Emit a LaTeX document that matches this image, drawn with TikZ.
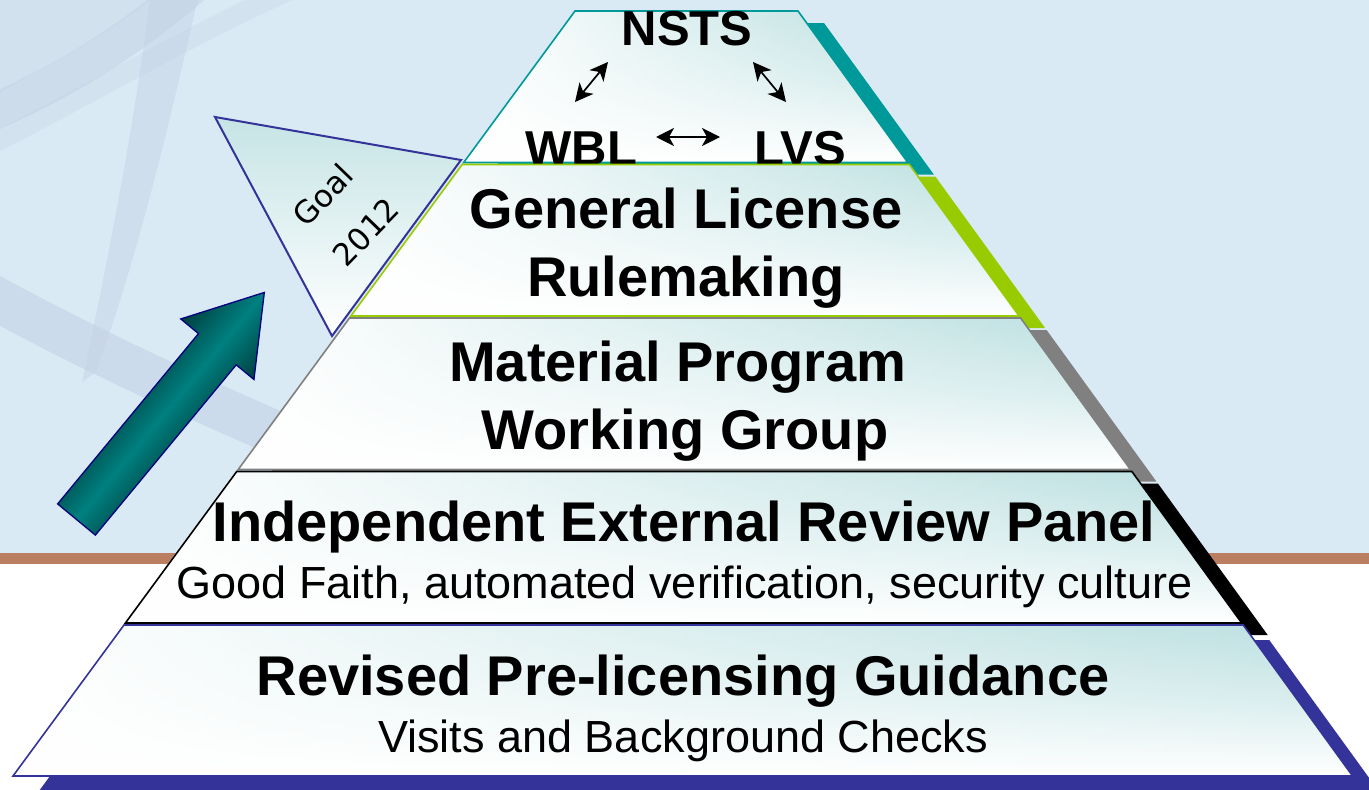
\documentclass[tikz,border=0pt]{standalone}
\usepackage{fontspec}
\setmainfont{Liberation Sans}
\newfontfamily\goalfont{DejaVu Sans}
\usetikzlibrary{arrows.meta,fadings}

\definecolor{skyBg}{HTML}{D9EAF4}
\definecolor{ribbon}{HTML}{C4D1E5}
\definecolor{clay}{HTML}{BA7E60}
\definecolor{tierTeal}{HTML}{009999}
\definecolor{tierGreen}{HTML}{99CC00}
\definecolor{tierGray}{HTML}{808080}
\definecolor{tierBlack}{HTML}{000000}
\definecolor{tierBlue}{HTML}{333399}
\definecolor{tint}{HTML}{BADFE0}
\definecolor{goalTint}{HTML}{C6E4E5}
\definecolor{arrowTeal}{HTML}{008080}
\definecolor{arrowDark}{HTML}{003F3F}
\definecolor{arrowEdge}{HTML}{000080}

% white wash that is strong on the left and vanishes to the right
\tikzfading[name=whiteleft, left color=transparent!0, middle color=transparent!60, right color=transparent!100]

% one tier of the pyramid: offset shadow, tinted body, outline
\newcommand\drawtier[3]{%
  \fill[#1, shift={#3}] #2;
  \shade[top color=tint, bottom color=white, middle color=tint!55!white] #2;
  \fill[white, path fading=whiteleft] #2;
  \draw[#1, line width=1.6pt, line join=miter] #2;
}

\begin{document}
\begin{tikzpicture}[x=1pt, y=-1pt,
  title/.style={font=\fontsize{56}{60}\selectfont\bfseries, inner sep=0pt, anchor=base},
  subtitle/.style={font=\fontsize{45}{50}\selectfont, inner sep=0pt, anchor=base},
  peer/.style={font=\fontsize{49}{52}\selectfont\bfseries, inner sep=0pt, anchor=base},
  goaltext/.style={font=\goalfont\fontsize{31}{33}\selectfont, inner sep=0pt, rotate=46},
  link/.style={{Stealth[length=18pt,width=18pt,inset=5pt]}-{Stealth[length=18pt,width=18pt,inset=5pt]}, line width=1.7pt}
]
\useasboundingbox (0,0) rectangle (1369,790);
\clip (0,0) rectangle (1369,790);

% backdrop: sky, clay stripe, white floor
\fill[skyBg] (0,0) rectangle (1369,553);
\fill[clay] (0,553) rectangle (1369,564);
\fill[white] (0,564) rectangle (1369,790);

% faint ribbons in the upper left
\fill[ribbon, opacity=0.35] (0,0) -- (0,92) .. controls (50,65) and (100,40) .. (150,0) -- cycle;
\draw[ribbon, line width=36pt, opacity=0.55] (-20,118) .. controls (50,88) and (120,50) .. (200,-20);
\draw[ribbon, line width=20pt, opacity=0.3] (-20,150) .. controls (80,100) and (180,40) .. (290,-10);
\fill[ribbon, opacity=0.45] (150,-2) -- (198,-2) .. controls (170,120) and (140,250) .. (96,372)
  -- (82,382) .. controls (110,250) and (135,120) .. (150,-2) -- cycle;
\draw[ribbon, line width=44pt, opacity=0.6] (-20,290) .. controls (80,345) and (180,392) .. (320,452);

% top tier
\drawtier{tierTeal}{(575,11) -- (798,11) -- (907.8,162.5) -- (463.7,162.5) -- cycle}{(26,12)}
\node[peer] (nsts) at (687,45) {NSTS};
\node[peer] (wbl) at (581.5,165) {WBL};
\node[peer] (lvs) at (800.5,165) {LVS};
\coordinate (wblEnd) at (575,102);
\coordinate (nstsLeft) at (608,62);
\coordinate (nstsRight) at (753,62);
\coordinate (lvsEnd) at (786,102);
\coordinate (wblRight) at (656,137);
\coordinate (lvsLeft) at (720,137);
\draw[link] (wblEnd) -- (nstsLeft);
\draw[link] (nstsRight) -- (lvsEnd);
\draw[link] (wblRight) -- (lvsLeft);

% second tier
\drawtier{tierGreen}{(462.2,164.5) -- (909.3,164.5) -- (1019.1,316) -- (350.9,316) -- cycle}{(26,12)}
\node[title] (gl1) at (686,228) {General License};
\node[title] (gl2) at (686,296) {Rulemaking};

% third tier
\drawtier{tierGray}{(349.5,318) -- (1020.6,318) -- (1130.4,469.5) -- (238.2,469.5) -- cycle}{(26,12)}
\node[title] (mp1) at (678,381.5) {Material Program};
\node[title] (mp2) at (685,449.5) {Working Group};

% fourth tier
\drawtier{tierBlack}{(236.7,471.5) -- (1131.9,471.5) -- (1241.7,623) -- (125.4,623) -- cycle}{(26,12)}
\node[title] (ie1) at (684,541) {Independent External Review Panel};
\node[subtitle] (ie2) at (684.5,598) {Good Faith, automated verification, security culture};

% base tier
\drawtier{tierBlue}{(124,625) -- (1243.2,625) -- (1352.6,776) -- (13,776) -- cycle}{(26,15)}
\node[title] (rp1) at (683,695) {Revised Pre-licensing Guidance};
\node[subtitle] (rp2) at (683,752) {Visits and Background Checks};

% goal pennant
\draw[tierBlue, line width=2pt, line join=miter, top color=goalTint, bottom color=white]
  (215,117) -- (461,160) -- (332,336) -- cycle;
\node[goaltext] (goal) at (323,195) {Goal};
\node[goaltext] (year) at (366,232) {2012};

% rising block arrow
\begin{scope}[transform canvas={shift={(76.5,519.5)}, rotate=50.4}]
  \path[draw=arrowEdge, line width=1.3pt, line join=miter,
        top color=arrowDark, bottom color=arrowDark, middle color=arrowTeal]
    (0,-24.5) -- (221,-24.5) -- (221,-47.5) -- (294.7,0) -- (221,47.5)
    -- (221,24.5) -- (0,24.5) -- cycle;
\end{scope}
\end{tikzpicture}
\end{document}
